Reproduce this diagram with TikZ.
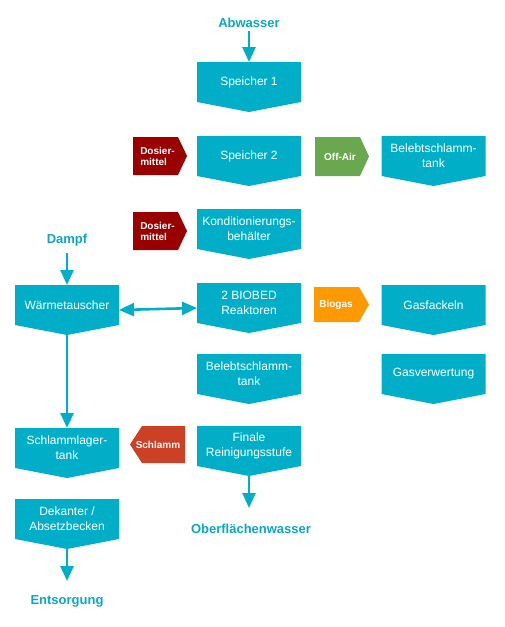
\documentclass[tikz,border=0pt]{standalone}
\usepackage{fontspec}
\setmainfont{Liberation Sans}
\usetikzlibrary{arrows.meta}
\definecolor{tealbox}{RGB}{0,175,199}
\definecolor{teallabel}{RGB}{10,168,196}
\definecolor{dosred}{RGB}{153,0,0}
\definecolor{offgreen}{RGB}{106,168,79}
\definecolor{bioorange}{RGB}{255,153,0}
\definecolor{schlred}{RGB}{204,65,37}
\tikzset{
  boxtext/.style={text=white, align=center, inner sep=0pt, font=\fontsize{12}{15}\selectfont},
  tagtext/.style={text=white, align=left, inner sep=0pt, font=\fontsize{10}{11}\selectfont\bfseries},
  labeltext/.style={text=teallabel, inner sep=0pt, font=\fontsize{13}{15}\selectfont\bfseries},
  flowarrow/.style={draw=tealbox, line width=2.6pt, -{Triangle[length=15pt,width=13pt]}},
  dblarrow/.style={draw=tealbox, line width=2.6pt, {Triangle[length=15pt,width=13pt]}-{Triangle[length=15pt,width=13pt]}}
}
% name, x centre, y top, text
\newcommand{\flowbox}[4]{%
  \fill[tealbox] (#2-52,#3) -- (#2+52,#3) -- (#2+52,#3+40) -- (#2,#3+50) -- (#2-52,#3+40) -- cycle;
  \node[boxtext] (#1) at (#2,#3+20) {#4};
  \coordinate (#1-tip) at (#2,#3+50);
  \coordinate (#1-top) at (#2,#3);
  \coordinate (#1-e) at (#2+52,#3+25);
  \coordinate (#1-w) at (#2-52,#3+25);
}
% name, colour, x left, x right, x point, y top, y bottom, text x, text
\newcommand{\tagright}[9]{%
  \fill[#2] (#3,#6) -- (#4,#6) -- (#5,#6/2+#7/2) -- (#4,#7) -- (#3,#7) -- cycle;
  \node[tagtext] (#1) at (#8,#6/2+#7/2) {#9};
}
\begin{document}
\begin{tikzpicture}[x=1pt,y=-1pt]
\fill[white] (0,0) rectangle (504,627);
\useasboundingbox (0,0) rectangle (504,627);

% main column
\flowbox{sp1}{249}{62}{Speicher 1}
\flowbox{sp2}{249}{136}{Speicher 2}
\flowbox{kond}{249}{209}{Konditionierungs-\\behälter}
\flowbox{biobed}{249}{283}{2 BIOBED\\Reaktoren}
\flowbox{belebt2}{249}{354}{Belebtschlamm-\\tank}
\flowbox{finale}{249}{426}{Finale\\Reinigungsstufe}

% right column
\flowbox{belebt1}{433.5}{136}{Belebtschlamm-\\tank}
\flowbox{gasf}{433.5}{285}{Gasfackeln}
\flowbox{gasv}{433.5}{354}{Gasverwertung}

% left column
\flowbox{waerme}{67}{285}{Wärmetauscher}
\flowbox{schlager}{67}{428}{Schlammlager-\\tank}
\flowbox{dekanter}{67}{499}{Dekanter /\\Absetzbecken}

% tags
\tagright{dos1}{dosred}{133}{178}{187}{137}{175}{157.5}{Dosier-\\mittel}
\tagright{dos2}{dosred}{133}{178}{187}{212}{250}{157.5}{Dosier-\\mittel}
\tagright{offair}{offgreen}{315}{360}{369}{137}{176}{340}{Off-Air}
\tagright{biogas}{bioorange}{314}{359}{369}{287}{322}{336}{Biogas}
\fill[schlred] (185,426) -- (142,426) -- (130,444.5) -- (142,463) -- (185,463) -- cycle;
\node[tagtext] (schlamm) at (158,444.5) {Schlamm};

% labels
\node[labeltext] (abwasser) at (249,22.5) {Abwasser};
\node[labeltext] (dampf) at (67,240.5) {Dampf};
\node[labeltext] (oberfl) at (251,528.5) {Oberflächenwasser};
\node[labeltext] (entsorgung) at (67,601.5) {Entsorgung};

% connectors
\coordinate (abw-s) at (249,31);
\coordinate (dampf-s) at (67,252.5);
\coordinate (oberfl-n) at (249,508);
\coordinate (ents-n) at (67,581);
\draw[flowarrow] (abw-s) -- (sp1-top);
\draw[flowarrow] (dampf-s) -- (waerme-top);
\draw[flowarrow] (waerme-tip) -- (schlager-top);
\draw[flowarrow] (finale-tip) -- (oberfl-n);
\draw[flowarrow] (dekanter-tip) -- (ents-n);
\draw[dblarrow] (waerme-e) -- (biobed-w);
\end{tikzpicture}
\end{document}
